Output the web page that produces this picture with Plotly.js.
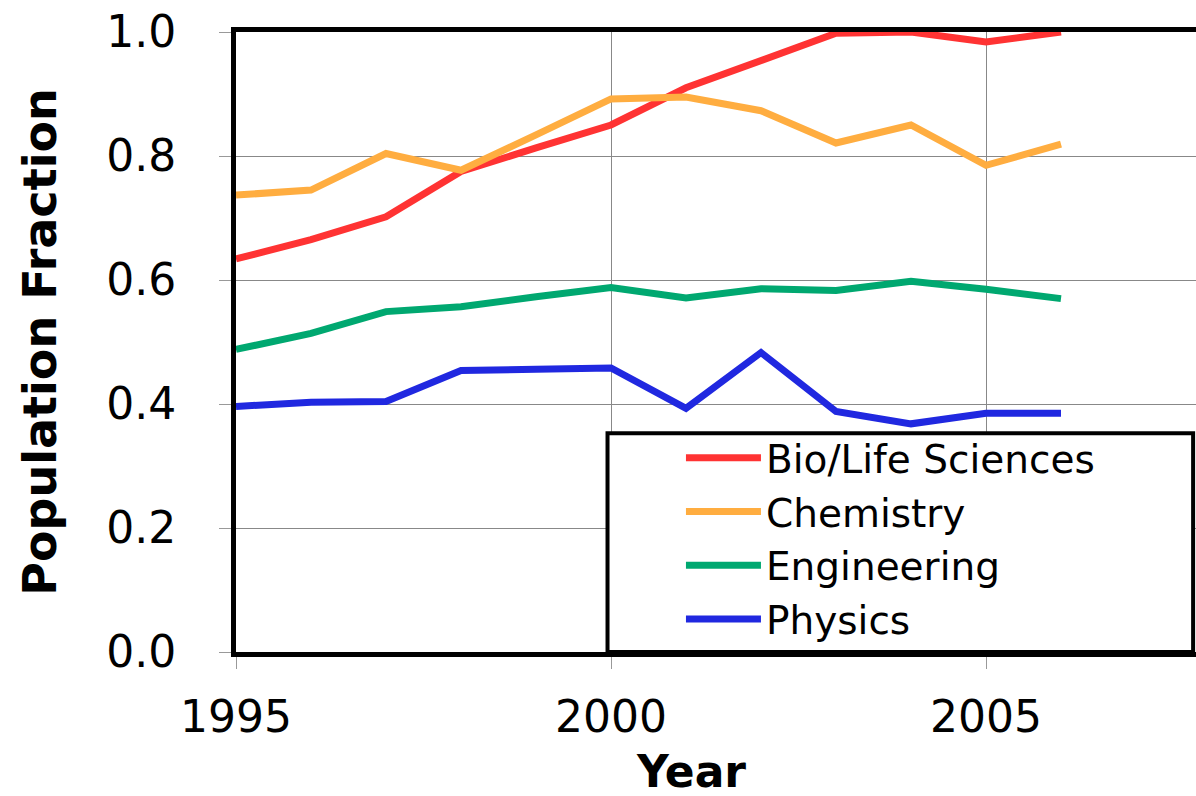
<!DOCTYPE html>
<html>
<head>
<meta charset="utf-8">
<script src="https://cdn.plot.ly/plotly-3.0.1.min.js"></script>
<style>html,body{margin:0;padding:0;background:#fff;}#chart{width:1196px;height:796px;}</style>
</head>
<body>
<div id="chart"></div>
<script>
const years = [1995, 1996, 1997, 1998, 1999, 2000, 2001, 2002, 2003, 2004, 2005, 2006];
const bioLife = [0.634, 0.665, 0.702, 0.775, 0.813, 0.850, 0.910, 0.955, 0.998, 1.0, 0.984, 1.0];
const chemistry = [0.737, 0.745, 0.804, 0.777, 0.834, 0.892, 0.895, 0.873, 0.821, 0.850, 0.785, 0.819];
const engineering = [0.488, 0.514, 0.549, 0.557, 0.573, 0.588, 0.571, 0.586, 0.583, 0.598, 0.585, 0.570];
const physics = [0.396, 0.403, 0.404, 0.454, 0.456, 0.458, 0.393, 0.483, 0.388, 0.368, 0.385, 0.385];
const seriesNames = ["Bio/Life Sciences", "Chemistry", "Engineering", "Physics"];
const seriesColors = ["#FF3333", "#FFAD40", "#00A870", "#2028E0"];
const seriesValues = [bioLife, chemistry, engineering, physics];

const traces = seriesValues.map((vals, i) => ({
  type: "scatter",
  mode: "lines",
  x: years,
  y: vals,
  name: seriesNames[i],
  line: {color: seriesColors[i], width: 7}
}));

const layout = {
  width: 1196,
  height: 796,
  margin: {l: 236, r: 0, t: 32, b: 144},
  paper_bgcolor: "#fff",
  plot_bgcolor: "#fff",
  showlegend: true,
  font: {family: "DejaVu Sans, Verdana, sans-serif", color: "#000"},
  xaxis: {
    range: [1995, 2007.8],
    tick0: 1995,
    dtick: 5,
    showgrid: true,
    gridcolor: "#888",
    gridwidth: 1,
    zeroline: false,
    showline: true,
    mirror: true,
    linecolor: "#000",
    linewidth: 5,
    ticks: "outside",
    ticklen: 12,
    tickcolor: "#999",
    tickwidth: 1,
    ticklabelstandoff: 10,
    tickfont: {family: "DejaVu Sans, Verdana, sans-serif", size: 44, color: "#000"},
    title: {text: ""}
  },
  yaxis: {
    range: [0, 1],
    tick0: 0,
    dtick: 0.2,
    tickformat: ".1f",
    showgrid: true,
    gridcolor: "#888",
    gridwidth: 1,
    zeroline: false,
    showline: true,
    mirror: false,
    linecolor: "#000",
    linewidth: 5,
    ticks: "outside",
    ticklen: 12,
    tickcolor: "#999",
    tickwidth: 1,
    ticklabelstandoff: 34,
    tickfont: {family: "DejaVu Sans, Verdana, sans-serif", size: 44, color: "#000"},
    title: {text: "Population Fraction", font: {family: "DejaVu Sans, Verdana, sans-serif", size: 46, color: "#000", weight: "bold"}, standoff: 37}
  },
  legend: {
    x: 0.4635,
    y: 0.3645,
    xanchor: "left",
    yanchor: "top",
    bgcolor: "rgba(0,0,0,0)",
    borderwidth: 0,
    font: {family: "DejaVu Sans, Verdana, sans-serif", size: 39, color: "#000"},
    tracegroupgap: 0,
    itemwidth: 75
  },
  shapes: [{
    type: "rect",
    xref: "paper", yref: "paper",
    x0: 0.387, x1: 0.997, y0: 0.0, y1: 0.353,
    fillcolor: "#fff",
    line: {color: "#000", width: 4},
    layer: "above"
  }],
  annotations: [{
    text: "Year",
    xref: "paper", yref: "paper",
    x: 0.474, y: -0.1935,
    xanchor: "center", yanchor: "middle",
    showarrow: false,
    font: {family: "DejaVu Sans, Verdana, sans-serif", size: 44, color: "#000", weight: "bold"}
  }]
};

Plotly.newPlot("chart", traces, layout, {displayModeBar: false, staticPlot: true});
</script>
</body>
</html>
